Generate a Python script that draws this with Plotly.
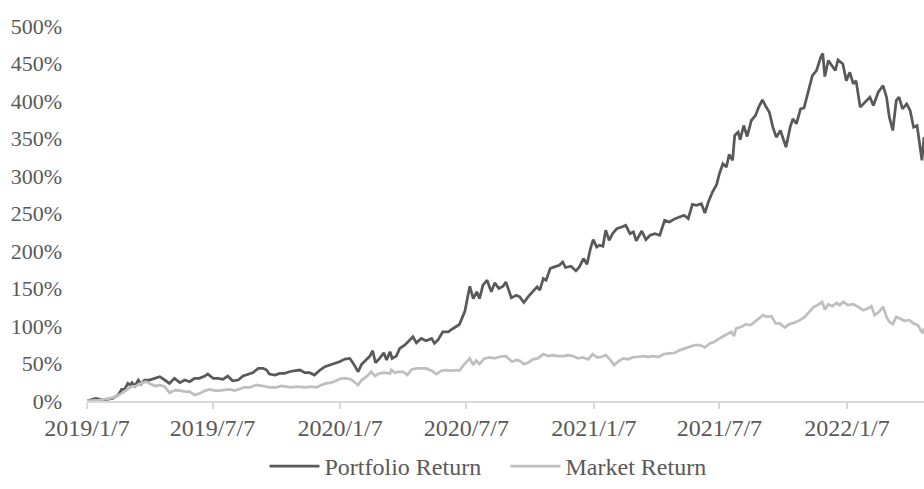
import plotly.graph_objects as go

portfolio_dates = [
    "2019-01-07","2019-01-20","2019-01-30","2019-02-13","2019-02-21","2019-02-26","2019-03-02","2019-03-07",
    "2019-03-10","2019-03-13","2019-03-17","2019-03-22","2019-03-26","2019-03-31","2019-04-07","2019-04-15",
    "2019-04-22","2019-04-29","2019-05-06","2019-05-13","2019-05-21","2019-05-28","2019-06-04","2019-06-11",
    "2019-06-18","2019-06-26","2019-06-30","2019-07-08","2019-07-15","2019-07-22","2019-07-29","2019-08-05",
    "2019-08-13","2019-08-20","2019-08-27","2019-09-03","2019-09-11","2019-09-18","2019-09-23","2019-09-27",
    "2019-10-05","2019-10-12","2019-10-19","2019-10-26","2019-11-03","2019-11-10","2019-11-17","2019-11-24",
    "2019-12-01","2019-12-09","2019-12-16","2019-12-23","2019-12-30","2020-01-06","2020-01-14","2020-01-21",
    "2020-01-26","2020-02-02","2020-02-07","2020-02-14","2020-02-19","2020-02-23","2020-02-27","2020-03-04",
    "2020-03-10","2020-03-14","2020-03-19","2020-03-22","2020-03-28","2020-04-02","2020-04-09","2020-04-14",
    "2020-04-21","2020-04-26","2020-05-03","2020-05-10","2020-05-18","2020-05-22","2020-05-27","2020-06-03",
    "2020-06-11","2020-06-18","2020-06-27","2020-07-05","2020-07-12","2020-07-17","2020-07-22","2020-07-26",
    "2020-07-31","2020-08-06","2020-08-12","2020-08-17","2020-08-23","2020-08-29","2020-09-02","2020-09-10",
    "2020-09-17","2020-09-22","2020-09-28","2020-10-04","2020-10-11","2020-10-17","2020-10-21","2020-10-26",
    "2020-10-30","2020-11-05","2020-11-11","2020-11-18","2020-11-23","2020-11-27","2020-12-05","2020-12-12",
    "2020-12-17","2020-12-23","2020-12-28","2021-01-02","2021-01-06","2021-01-11","2021-01-15","2021-01-20",
    "2021-01-24","2021-01-29","2021-02-03","2021-02-09","2021-02-16","2021-02-22","2021-02-28","2021-03-05",
    "2021-03-09","2021-03-17","2021-03-23","2021-03-29","2021-04-05","2021-04-12","2021-04-19","2021-04-26",
    "2021-05-04","2021-05-11","2021-05-17","2021-05-23","2021-05-29","2021-06-04","2021-06-11","2021-06-16",
    "2021-06-21","2021-06-27","2021-07-03","2021-07-07","2021-07-12","2021-07-17","2021-07-21","2021-07-26",
    "2021-07-29","2021-08-03","2021-08-06","2021-08-11","2021-08-16","2021-08-22","2021-08-28","2021-09-02",
    "2021-09-07","2021-09-12","2021-09-17","2021-09-22","2021-09-27","2021-10-03","2021-10-11","2021-10-17",
    "2021-10-21","2021-10-26","2021-11-01","2021-11-06","2021-11-12","2021-11-18","2021-11-24","2021-11-30",
    "2021-12-03","2021-12-06","2021-12-11","2021-12-16","2021-12-21","2021-12-25","2022-01-01","2022-01-06",
    "2022-01-11","2022-01-16","2022-01-20","2022-01-26","2022-02-02","2022-02-09","2022-02-14","2022-02-21",
    "2022-02-28","2022-03-05","2022-03-09","2022-03-14","2022-03-19","2022-03-23","2022-03-28","2022-04-03",
    "2022-04-08","2022-04-13","2022-04-18","2022-04-25","2022-04-28",
]
portfolio_values = [
    0, 3.5, 1.3, 3.5, 8, 15.5, 15.5, 23.5,
    21.3, 24.4, 20, 28, 22.6, 28, 28, 30.2,
    32.4, 28, 23.5, 30.2, 24.4, 28, 25.7, 30.2,
    30.2, 33.3, 36, 30.2, 30.2, 28.8, 33.3, 27,
    28, 33.3, 36, 37.7, 43.5, 43.5, 41.3, 36,
    34.6, 36.8, 36.8, 39, 40.4, 41.3, 37.7, 37.7,
    34.6, 41.3, 45.7, 47.9, 50.1, 52.4, 55.9, 56.8,
    50.1, 39, 48.8, 54.6, 59.9, 67, 51, 56.8,
    64.3, 54.6, 65.7, 56.8, 59.9, 70.1, 74.5, 79,
    85.6, 77.6, 83.4, 80.3, 83.4, 76.8, 81.2, 92.3,
    92.3, 96.7, 102, 120, 153, 136.6, 145.5, 136.6,
    154.4, 161, 145.5, 157.5, 150, 153, 158.8, 137.5,
    141, 138.9, 131.3, 138.9, 145.5, 152.2, 147.7, 163.3,
    161, 176.6, 178.8, 181, 185.4, 178, 179.7, 173.5,
    178.8, 189.9, 182.3, 203.2, 215.2, 205.4, 207.6, 206.3,
    227.6, 214.3, 223.2, 229.8, 232, 234.3, 223.2, 225.4,
    213.4, 226.7, 215.2, 221, 223.2, 221, 240.9, 238.7,
    243.1, 245.3, 247.6, 243.1, 262.2, 260.9, 263.1, 250.7,
    265.3, 278.6, 288.8, 303, 316.3, 311.9, 328.7, 320.8,
    354, 358.5, 348.3, 367.3, 352.7, 374, 380.7, 392.6,
    401.5, 392.6, 385.1, 365.1, 351.8, 360.7, 338.5, 365.1,
    376.2, 369.6, 389.5, 390.9, 413.9, 433.9, 440.6, 458.3,
    463.6, 432.6, 453.9, 447.2, 440.6, 454.7, 449.4, 427.2,
    438.3, 422.8, 427.2, 391.8, 398.4, 405.1, 394, 411.7,
    420.6, 405.1, 378.4, 360.7, 400.6, 405.1, 389.5, 396.2,
    387.3, 365.1, 367.3, 320.8, 352,
]

market_dates = [
    "2019-01-07","2019-01-25","2019-02-09","2019-02-18","2019-02-26","2019-03-05","2019-03-12","2019-03-19",
    "2019-03-26","2019-04-02","2019-04-07","2019-04-15","2019-04-22","2019-04-29","2019-05-06","2019-05-14",
    "2019-05-21","2019-05-28","2019-06-04","2019-06-11","2019-06-19","2019-06-26","2019-07-03","2019-07-10",
    "2019-07-17","2019-07-25","2019-08-01","2019-08-08","2019-08-15","2019-08-22","2019-08-30","2019-09-08",
    "2019-09-18","2019-09-27","2019-10-07","2019-10-14","2019-10-21","2019-10-29","2019-11-05","2019-11-12",
    "2019-11-19","2019-11-26","2019-12-04","2019-12-11","2019-12-18","2019-12-25","2020-01-02","2020-01-09",
    "2020-01-16","2020-01-23","2020-02-02","2020-02-07","2020-02-14","2020-02-21","2020-02-26","2020-03-04",
    "2020-03-11","2020-03-19","2020-03-21","2020-03-26","2020-03-31","2020-04-07","2020-04-13","2020-04-19",
    "2020-04-26","2020-05-03","2020-05-10","2020-05-18","2020-05-25","2020-06-01","2020-06-08","2020-06-15",
    "2020-06-23","2020-06-27","2020-07-03","2020-07-12","2020-07-17","2020-07-21","2020-07-26","2020-08-02",
    "2020-08-10","2020-08-17","2020-08-24","2020-09-02","2020-09-08","2020-09-11","2020-09-17","2020-09-22",
    "2020-09-28","2020-10-04","2020-10-11","2020-10-18","2020-10-26","2020-11-02","2020-11-09","2020-11-16",
    "2020-11-24","2020-12-01","2020-12-08","2020-12-15","2020-12-22","2020-12-30","2021-01-05","2021-01-12",
    "2021-01-18","2021-01-24","2021-01-30","2021-02-05","2021-02-11","2021-02-18","2021-02-25","2021-03-04",
    "2021-03-12","2021-03-19","2021-03-26","2021-04-02","2021-04-11","2021-04-18","2021-04-26","2021-05-04",
    "2021-05-11","2021-05-18","2021-05-25","2021-06-01","2021-06-09","2021-06-16","2021-06-23","2021-06-30",
    "2021-07-07","2021-07-15","2021-07-19","2021-07-24","2021-07-28","2021-07-31","2021-08-08","2021-08-14",
    "2021-08-21","2021-08-27","2021-09-02","2021-09-08","2021-09-13","2021-09-20","2021-09-26","2021-10-02",
    "2021-10-09","2021-10-16","2021-10-23","2021-10-31","2021-11-07","2021-11-14","2021-11-20","2021-11-26",
    "2021-12-02","2021-12-06","2021-12-11","2021-12-17","2021-12-23","2021-12-27","2022-01-02","2022-01-08",
    "2022-01-16","2022-01-23","2022-01-30","2022-02-06","2022-02-11","2022-02-16","2022-02-22","2022-02-28",
    "2022-03-05","2022-03-09","2022-03-14","2022-03-19","2022-03-25","2022-03-31","2022-04-07","2022-04-13",
    "2022-04-19","2022-04-26","2022-04-28",
]
market_values = [
    0, 1.3, 3.5, 5.8, 10.2, 14.6, 19.1, 20,
    23.5, 25.7, 23.5, 20, 21.3, 19.1, 11.1, 14.6,
    13.8, 12.4, 12.4, 8, 10.2, 13.8, 15.5, 13.8,
    13.8, 14.6, 15.5, 13.8, 15.5, 18.2, 18.2, 21.3,
    20, 18.2, 18.2, 20, 19.1, 18.2, 19.1, 18.2,
    18.2, 19.1, 18.2, 21.3, 23.5, 24.4, 28, 30.2,
    30.2, 28.8, 21.3, 28, 32.4, 39, 33.3, 36.8,
    37.7, 36.8, 41.3, 37.7, 39, 39, 34.6, 42.1,
    43.5, 43.5, 43.5, 40.4, 35.9, 40.4, 41.3, 40.4,
    41.3, 40.4, 47.9, 56.8, 47.9, 53.7, 49.2, 56.8,
    58.1, 56.8, 59, 59.9, 55.5, 52.4, 54.6, 53.7,
    49.2, 51, 55.5, 56.8, 62.6, 59.9, 61.2, 59.9,
    59.9, 61.2, 59.9, 56.8, 58.1, 55.5, 62.6, 58.1,
    59, 61.2, 55.5, 47.9, 52.4, 56.8, 55.5, 58.1,
    59, 59.9, 59, 59.9, 59, 62.6, 63.4, 64.3,
    67.9, 70.1, 72.3, 74.5, 74.5, 71.4, 76.8, 79,
    83.4, 87.8, 90.1, 92.3, 86.5, 96.7, 98.9, 102.5,
    101.2, 105.6, 110, 114.5, 112.2, 113.1, 103.4, 103.4,
    98, 102.5, 104.3, 107.8, 112.2, 118.9, 125.6, 127.8,
    132.2, 122, 129.1, 126.4, 130.9, 127.8, 132.2, 127.8,
    129.1, 125.6, 121.1, 123.3, 126.4, 114.5, 118.9, 125.6,
    112.2, 105.6, 102.5, 112.2, 110, 106.9, 107.8, 103.4,
    101.2, 90.1, 96.7,
]

tick_dates = ["2019-01-07", "2019-07-07", "2020-01-07", "2020-07-07", "2021-01-07", "2021-07-07", "2022-01-07"]
tick_labels = ["2019/1/7", "2019/7/7", "2020/1/7", "2020/7/7", "2021/1/7", "2021/7/7", "2022/1/7"]
y_ticks = [0, 50, 100, 150, 200, 250, 300, 350, 400, 450, 500]
y_labels = ["0%", "50%", "100%", "150%", "200%", "250%", "300%", "350%", "400%", "450%", "500%"]

FONT = "Liberation Serif, Times New Roman, serif"
TXT = "#595959"

fig = go.Figure()
fig.add_trace(go.Scatter(x=portfolio_dates, y=portfolio_values, mode="lines",
                         name="Portfolio Return", line=dict(color="#595959", width=2.75)))
fig.add_trace(go.Scatter(x=market_dates, y=market_values, mode="lines",
                         name="Market Return", line=dict(color="#bfbfbf", width=2.75)))

fig.update_layout(
    width=924, height=489,
    margin=dict(l=87, r=0, t=26, b=88),
    paper_bgcolor="white", plot_bgcolor="white",
    font=dict(family=FONT, size=23, color=TXT),
    showlegend=True,
    legend=dict(orientation="h", x=0.5, xanchor="center", yref="container", y=-0.012, yanchor="bottom",
                font=dict(family=FONT, size=24, color=TXT), itemwidth=50, traceorder="normal",
                entrywidth=176, entrywidthmode="pixels"),
    xaxis=dict(type="date", range=["2019-01-07", "2022-04-28"], tickvals=tick_dates, ticktext=tick_labels,
               showgrid=False, showline=True, linecolor="#d9d9d9", linewidth=1.5,
               ticks="outside", ticklen=6, tickcolor="#d9d9d9", tickwidth=1.5, ticklabelstandoff=-2,
               tickfont=dict(family=FONT, size=24, color=TXT), zeroline=False, automargin=False),
    yaxis=dict(range=[0, 500], tickvals=y_ticks, ticktext=y_labels, showgrid=False, showline=False,
               zeroline=False, ticks="", ticklabelstandoff=24, automargin=False,
               tickfont=dict(family=FONT, size=22, color=TXT)),
)

fig.write_html("out.html", config={"displayModeBar": False},
               post_script="document.body.style.margin='0';document.body.style.overflow='hidden';")
